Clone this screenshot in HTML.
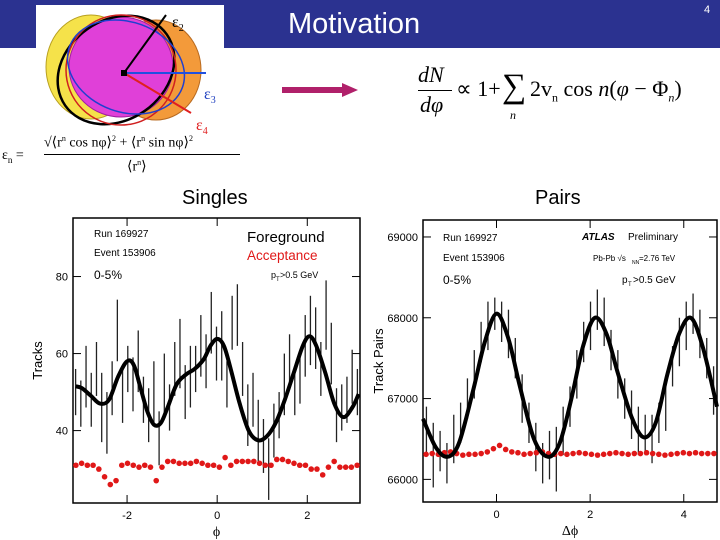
<!DOCTYPE html>
<html><head><meta charset="utf-8">
<style>
body{margin:0;width:720px;height:540px;background:#fff;position:relative;overflow:hidden;font-family:"Liberation Sans",sans-serif}
.abs{position:absolute}
.serif{font-family:"Liberation Serif",serif}
</style></head>
<body>
<div class="abs" style="left:0;top:0;width:720px;height:48px;background:#2b3290"></div>
<div class="abs" style="left:288px;top:8px;font-size:29px;color:#fff">Motivation</div>
<div class="abs" style="left:704px;top:4px;font-size:11px;color:#fff">4</div>
<div class="abs" style="left:36px;top:5px;width:188px;height:125px;background:#fff"></div>
<svg class="abs" style="left:36px;top:5px" width="190" height="130">
 <ellipse cx="55" cy="62" rx="45" ry="52" fill="#f5e24a" stroke="#b8a020"/>
 <ellipse cx="120" cy="65" rx="45" ry="50" fill="#f39a3a" stroke="#b86a20"/>
 <ellipse cx="85" cy="62" rx="52" ry="50" fill="#e040d8" stroke="#a020a0"/>
 <ellipse cx="80" cy="65" rx="62" ry="50" fill="none" stroke="#000" stroke-width="2.5" transform="rotate(-35 80 65)"/>
 <ellipse cx="85" cy="65" rx="55" ry="55" fill="none" stroke="#d02020" stroke-width="1.5"/>
 <ellipse cx="90" cy="62" rx="60" ry="45" fill="none" stroke="#2040d0" stroke-width="1.5" transform="rotate(20 90 62)"/>
 <line x1="88" y1="68" x2="130" y2="10" stroke="#000" stroke-width="2"/>
 <line x1="88" y1="68" x2="170" y2="68" stroke="#2050e0" stroke-width="2"/>
 <line x1="88" y1="68" x2="155" y2="108" stroke="#e02020" stroke-width="2"/>
 <rect x="85" y="65" width="6" height="6" fill="#000"/>
 <text x="136" y="22" font-size="16" fill="#000" font-family="Liberation Serif">ε<tspan font-size="10" dy="4">2</tspan></text>
 <text x="168" y="94" font-size="16" fill="#2040c0" font-family="Liberation Serif">ε<tspan font-size="10" dy="4">3</tspan></text>
 <text x="160" y="125" font-size="16" fill="#e02020" font-family="Liberation Serif">ε<tspan font-size="10" dy="4">4</tspan></text>
</svg>
<div class="abs serif" style="left:2px;top:134px;font-size:14px;width:250px">
 <span style="position:absolute;left:0;top:14px">ε<sub style="font-size:9px">n</sub> =</span>
 <span style="position:absolute;left:42px;top:0;white-space:nowrap">√⟨r<sup style="font-size:8px">n</sup> cos nφ⟩<sup style="font-size:8px">2</sup> + ⟨r<sup style="font-size:8px">n</sup> sin nφ⟩<sup style="font-size:8px">2</sup></span>
 <span style="position:absolute;left:42px;top:20px;width:196px;border-top:1px solid #000"></span>
 <span style="position:absolute;left:125px;top:24px">⟨r<sup style="font-size:8px">n</sup>⟩</span>
</div>
<svg class="abs" style="left:280px;top:80px" width="80" height="20">
 <rect x="2" y="7" width="62" height="6" fill="#b0206a"/>
 <polygon points="62,3 78,10 62,17" fill="#b0206a"/>
</svg>
<div class="abs serif" style="left:418px;top:62px;font-size:22px;white-space:nowrap">
 <span style="position:absolute;left:0;top:0;font-style:italic">dN</span>
 <span style="position:absolute;left:0;top:28px;width:34px;border-top:1px solid #000"></span>
 <span style="position:absolute;left:2px;top:30px;font-style:italic">dφ</span>
 <span style="position:absolute;left:38px;top:14px">∝ 1+</span>
 <span style="position:absolute;left:84px;top:6px;font-size:34px">∑</span>
 <span style="position:absolute;left:92px;top:46px;font-size:12px;font-style:italic">n</span>
 <span style="position:absolute;left:112px;top:14px">2v<sub style="font-size:12px">n</sub> cos <i>n</i>(<i>φ</i> − Φ<sub style="font-size:12px"><i>n</i></sub>)</span>
</div>
<div class="abs" style="left:182px;top:187px;font-size:20px">Singles</div>
<div class="abs" style="left:535px;top:187px;font-size:20px">Pairs</div>
<svg class="abs" id="c1" style="left:0;top:0" width="720" height="540"></svg>
<script>
// Singles chart data
const sCurveX=[-3.14,-3,-2.8,-2.6,-2.4,-2.2,-2,-1.85,-1.7,-1.55,-1.4,-1.25,-1.1,-0.9,-0.7,-0.5,-0.3,-0.15,0,0.15,0.3,0.5,0.7,0.9,1.1,1.3,1.5,1.7,1.9,2.05,2.2,2.4,2.6,2.8,3.0,3.14];
const sCurveY=[51.5,51,49,47,48,54,58,57,51,45,41.5,42,46,52,54.5,56,58.5,62,63.8,62,56,47,40,37.5,38.5,42,48,55,62,64.5,62,55,47,43.5,46,49.5];
const sAccY=[31,31.5,31,31,30,28,26,27,31,31.5,31,30.5,31,30.5,27,30.5,32,32,31.5,31.5,31.5,32,31.5,31,31,30.5,33,31,32,32,32,32,31.5,31,31,32.5,32.5,32,31.5,31,31,30,30,28.5,30.5,32,30.5,30.5,30.5,31];
const sFgY=[50,47,54,48,56,46,42,51,66,49,56,52,58,48,44,50,38,52,46,56,60,50,54,56,62,58,68,60,62,52,68,70,56,44,48,40,36,30,40,44,52,58,50,54,62,66,64,56,70,60,44,46,48,54,50];
const sFgE=[6,6,8,7,7,9,8,7,8,7,6,7,8,6,7,8,7,8,6,7,9,7,8,6,8,7,8,7,9,6,7,8,7,8,7,8,7,8,7,6,8,7,6,7,8,9,8,7,9,8,7,6,6,7,6];
const sYTicks=[40,60,80];
const sXTicks=[-2,0,2];
// Pairs chart data
const pCurveX=[-1.57,-1.3,-1.05,-0.8,-0.5,-0.25,0,0.25,0.5,0.8,1.1,1.35,1.6,1.85,2.1,2.35,2.6,2.9,3.15,3.4,3.65,3.9,4.15,4.4,4.71];
const pCurveY=[66750,66400,66280,66450,67100,67700,68050,67750,67150,66500,66280,66450,67000,67650,68000,67800,67300,66750,66520,66700,67300,67800,68000,67650,66900];
const pAccY=[66310,66320,66310,66330,66340,66320,66300,66310,66310,66320,66340,66380,66420,66370,66340,66330,66310,66320,66330,66340,66320,66310,66320,66310,66320,66330,66320,66310,66300,66310,66320,66330,66320,66310,66320,66320,66330,66320,66310,66300,66310,66320,66330,66320,66330,66320,66320,66320];
const pFgY=[66600,66300,66350,66200,66500,66700,67000,67300,67700,67900,68050,67950,67800,67500,67000,66700,66400,66200,66300,66250,66600,66900,67300,67700,67900,68100,67950,67600,67300,67000,66800,66600,66550,66500,66700,66900,67400,67700,67900,68050,67800,67500,67100];
const pFgE=[300,400,250,250,300,250,250,300,250,300,200,250,300,250,300,250,300,250,300,400,300,250,300,250,300,250,300,250,300,250,300,300,250,300,250,300,250,300,300,250,300,250,300];
const pYTicks=[66000,67000,68000,69000];
const pXTicks=[0,2,4];

const NS='http://www.w3.org/2000/svg';
const svg=document.getElementById('c1');
function mk(tag,attrs,parent){const e=document.createElementNS(NS,tag);for(const k in attrs)e.setAttribute(k,attrs[k]);(parent||svg).appendChild(e);return e;}

function smoothPath(pts){
  let d='M'+pts[0][0].toFixed(1)+','+pts[0][1].toFixed(1);
  for(let i=0;i<pts.length-1;i++){
    const p0=pts[Math.max(0,i-1)],p1=pts[i],p2=pts[i+1],p3=pts[Math.min(pts.length-1,i+2)];
    const c1x=p1[0]+(p2[0]-p0[0])/6,c1y=p1[1]+(p2[1]-p0[1])/6;
    const c2x=p2[0]-(p3[0]-p1[0])/6,c2y=p2[1]-(p3[1]-p1[1])/6;
    d+='C'+c1x.toFixed(1)+','+c1y.toFixed(1)+' '+c2x.toFixed(1)+','+c2y.toFixed(1)+' '+p2[0].toFixed(1)+','+p2[1].toFixed(1);
  }
  return d;
}

function drawChart(o){
  const g=mk('g',{});
  
  
  const X=v=>o.x0+(v-o.xmin)/(o.xmax-o.xmin)*(o.x1-o.x0);
  const Y=v=>o.y1-(v-o.ymin)/(o.ymax-o.ymin)*(o.y1-o.y0);
  const fr=mk('rect',{x:o.x0,y:o.y0,width:o.x1-o.x0,height:o.y1-o.y0,fill:'#fff',stroke:'#000','stroke-width':1.5},g);
  
  
  o.yt.forEach(t=>{
    const y=Y(t);
    mk('line',{x1:o.x0,x2:o.x0+8,y1:y,y2:y,stroke:'#000'},g);
    mk('line',{x1:o.x1,x2:o.x1-8,y1:y,y2:y,stroke:'#000'},g);
    const tx=mk('text',{x:o.x0-5,y:y+4,'font-size':11,'text-anchor':'end','font-family':'Liberation Sans'},g);
    tx.textContent=t;
    
    
  });
  o.xt.forEach(t=>{
    const x=X(t);
    mk('line',{x1:x,x2:x,y1:o.y1,y2:o.y1-8,stroke:'#000'},g);
    mk('line',{x1:x,x2:x,y1:o.y0,y2:o.y0+8,stroke:'#000'},g);
    const tx=mk('text',{x:x,y:o.y1+16,'font-size':11,'text-anchor':'middle','font-family':'Liberation Sans'},g);
    tx.textContent=t;
    
    
  });
  const n=o.fgY.length;
  o.fgY.forEach((v,i)=>{
    const x=X(o.xmin+(i+0.5)*(o.xmax-o.xmin)/n);
    const l=mk('line',{x1:x,x2:x,y1:Y(v-o.fgE[i]),y2:Y(v+o.fgE[i]),stroke:'#222','stroke-width':1.3},g);
    
    
  });
  const m=o.acc.length;
  o.acc.forEach((v,i)=>{
    const c=mk('circle',{cx:X(o.xmin+(i+0.5)*(o.xmax-o.xmin)/m),cy:Y(v),r:2.8,fill:'#e01818'},g);
    
    
  });
  const pts=o.cx.map((v,i)=>[X(v),Y(o.cy[i])]);
  const p=mk('path',{d:smoothPath(pts),fill:'none',stroke:'#000','stroke-width':4,'stroke-linejoin':'round'},g);
  
  
  const yt=mk('text',{x:0,y:0,'font-size':13,'text-anchor':'middle','font-family':'Liberation Sans',transform:'translate('+o.ylx+','+((o.y0+o.y1)/2)+') rotate(-90)'},g);
  yt.textContent=o.ylab;
  
  
  const xt=mk('text',{x:(o.x0+o.x1)/2,y:o.y1+33,'font-size':14,'text-anchor':'middle','font-family':'Liberation Serif'},g);
  xt.textContent=o.xlab;
  
  
  return {X,Y,g};
}
const s=drawChart({name:'singles-plot',x0:73,x1:360,y0:218,y1:503,xmin:-3.2,xmax:3.17,ymin:21.2,ymax:95.2,yt:sYTicks,xt:sXTicks,fgY:sFgY,fgE:sFgE,acc:sAccY,cx:sCurveX,cy:sCurveY,ylab:'Tracks',ylx:42,xlab:'ϕ'});
const p=drawChart({name:'pairs-plot',x0:423,x1:717,y0:220,y1:502,xmin:-1.57,xmax:4.71,ymin:65720,ymax:69210,yt:pYTicks,xt:pXTicks,fgY:pFgY,fgE:pFgE,acc:pAccY,cx:pCurveX,cy:pCurveY,ylab:'Track Pairs',ylx:383,xlab:'Δϕ'});
function lbl(t,x,y,size,name,extra){const e=mk('text',Object.assign({x:x,y:y,'font-size':size,'font-family':'Liberation Sans'},extra||{}));e.textContent=t;

return e;}
lbl('Run 169927',94,237,10,'run-label');
lbl('Event 153906',94,256,10,'event-label');
lbl('0-5%',94,279,12,'centrality-label');
lbl('p',271,278,9,'pt-label');
lbl('T',276,281,6,'pt-sub');
lbl('>0.5 GeV',280,278,9,'pt-cut-label');
lbl('Foreground',247,242,15,'legend-foreground');
lbl('Acceptance',247,260,13.5,'legend-acceptance',{fill:'#e01818'});
lbl('Run 169927',443,241,10,'run-label');
lbl('Event 153906',443,261,10,'event-label');
lbl('0-5%',443,284,12,'centrality-label');
lbl('ATLAS',582,240,10,'atlas-label',{'font-weight':'bold','font-style':'italic'});
lbl('Preliminary',628,240,10,'preliminary-label');
lbl('Pb-Pb √s',593,261,8,'energy-label');
lbl('NN',632,264,5,'energy-sub');
lbl('=2.76 TeV',639,261,8,'energy-value');
lbl('p',622,283,10,'pt-label');
lbl('T',628,286,6,'pt-sub');
lbl('>0.5 GeV',633,283,10,'pt-cut-label');
</script>
</body></html>
